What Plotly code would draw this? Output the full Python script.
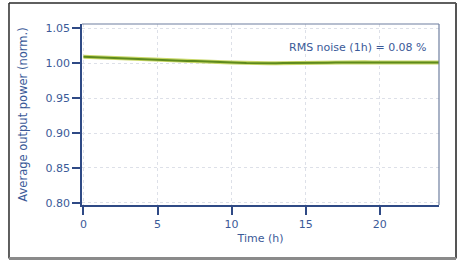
import plotly.graph_objects as go

time_h = [0.0, 0.5, 1.0, 1.5, 2.0, 2.5, 3.0, 3.5, 4.0, 4.5, 5.0, 5.5, 6.0, 6.5, 7.0, 7.5,
          8.0, 8.5, 9.0, 9.5, 10.0, 10.5, 11.0, 11.5, 12.0, 12.5, 13.0, 13.5, 14.0, 14.5,
          15.0, 15.5, 16.0, 16.5, 17.0, 17.5, 18.0, 18.5, 19.0, 19.5, 20.0, 20.5, 21.0,
          21.5, 22.0, 22.5, 23.0, 23.5, 24.0]
power = [1.0093, 1.0088, 1.0086, 1.0081, 1.0079, 1.0072, 1.0070, 1.0064, 1.0060, 1.0056,
         1.0050, 1.0047, 1.0041, 1.0038, 1.0032, 1.0030, 1.0024, 1.0021, 1.0017, 1.0012,
         1.0008, 1.0004, 1.0001, 0.9998, 0.9999, 0.9997, 1.0000, 1.0002, 1.0001, 1.0004,
         1.0005, 1.0003, 1.0007, 1.0006, 1.0009, 1.0007, 1.0010, 1.0008, 1.0011, 1.0009,
         1.0008, 1.0011, 1.0009, 1.0012, 1.0010, 1.0008, 1.0011, 1.0009, 1.0010]

x_ticks = [0, 5, 10, 15, 20]
y_ticks = [0.80, 0.85, 0.90, 0.95, 1.00, 1.05]
annotation_text = "RMS noise (1h) = 0.08 %"

navy = "#2f4a85"
txt = "#3b5a98"
grid = "#dde0e8"
font_family = "DejaVu Sans"

fig = go.Figure()
fig.add_trace(go.Scatter(x=time_h, y=power, mode="lines",
                         line=dict(color="#c9d86a", width=4), hoverinfo="skip"))
fig.add_trace(go.Scatter(x=time_h, y=power, mode="lines",
                         line=dict(color="#5e8a1c", width=2)))

fl, fr, fb, ft = -0.2045, 1.0476, -0.2956, 1.116

fig.update_layout(
    width=461, height=262,
    margin=dict(l=82, r=22, t=24, b=57),
    paper_bgcolor="white", plot_bgcolor="white",
    showlegend=False,
    font=dict(family=font_family, size=11, color=txt),
    xaxis=dict(range=[-0.1, 24], tickvals=x_ticks, ticks="outside", ticklen=8,
               tickcolor=navy, tickwidth=1.5, showline=True, linecolor=navy, linewidth=1.5,
               showgrid=True, gridcolor=grid, griddash="dot", gridwidth=1,
               zeroline=False,
               title=dict(text="Time (h)", standoff=4, font=dict(size=11, color=txt)),
               tickfont=dict(size=11, color=txt)),
    yaxis=dict(range=[0.797, 1.056], tickvals=y_ticks, tickformat=".2f", ticks="outside",
               ticklen=8, tickcolor=navy, tickwidth=1.5, showline=True, linecolor=navy,
               linewidth=1.5, showgrid=True, gridcolor=grid, griddash="dot", gridwidth=1,
               zeroline=False,
               title=dict(text="Average output power (norm.)", standoff=16,
                          font=dict(size=11.5, color=txt)),
               tickfont=dict(size=11, color=txt)),
    shapes=[
        dict(type="line", xref="paper", yref="paper", x0=0, x1=1, y0=1, y1=1,
             line=dict(color="#6f7f9f", width=1.2)),
        dict(type="line", xref="paper", yref="paper", x0=1, x1=1, y0=0, y1=1,
             line=dict(color="#6f7f9f", width=1.2)),
        dict(type="line", xref="paper", yref="paper", x0=fl, x1=fr, y0=ft, y1=ft,
             line=dict(color="#2a2a2a", width=1.5)),
        dict(type="line", xref="paper", yref="paper", x0=fl, x1=fl, y0=fb, y1=ft,
             line=dict(color="#2a2a2a", width=1.5)),
        dict(type="line", xref="paper", yref="paper", x0=fr, x1=fr, y0=fb, y1=ft,
             line=dict(color="#555555", width=2)),
        dict(type="line", xref="paper", yref="paper", x0=fl, x1=fr, y0=fb, y1=fb,
             line=dict(color="#8a8a8a", width=3)),
    ],
    annotations=[
        dict(text=annotation_text, xref="x", yref="paper", x=23.3, y=0.87,
             xanchor="right", yanchor="middle", showarrow=False,
             font=dict(size=11, color=txt)),
    ],
)

fig.write_html("out.html", config={"displayModeBar": False},
               post_script="document.body.style.margin='0';document.body.style.overflow='hidden';")
